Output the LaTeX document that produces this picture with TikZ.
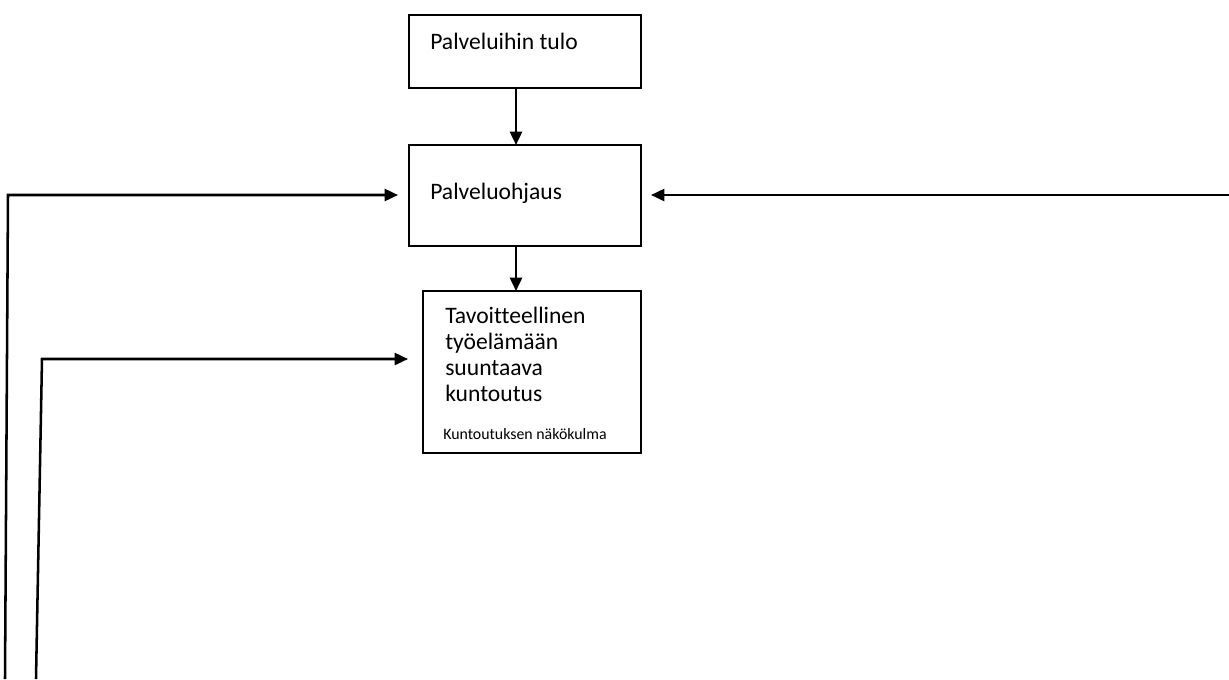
\documentclass[tikz,border=0pt]{standalone}
\usepackage{fontspec}
\setmainfont{Carlito}[Ligatures=NoCommon]
\usetikzlibrary{arrows.meta, positioning, calc}

\begin{document}
\begin{tikzpicture}[x=0.75pt, y=-0.75pt,
	 					box/.style = {draw, line width=1.4pt, inner sep=0pt, outer sep=0pt},
	 					txt/.style = {anchor=base west, inner sep=0pt, align=left,
	 						font=\fontsize{17.7}{19.5}\selectfont},
	 					note/.style = {anchor=base west, inner sep=0pt,
	 						font=\fontsize{11.9}{14}\selectfont},
	 					arr/.style = {line width=1.9pt, -{Triangle[length=10pt, width=9pt]}}]
	\useasboundingbox (0,0) rectangle (1229,679);
	% boxes
	\node[box, minimum width=174pt, minimum height=54.75pt, anchor=north west] (tulo) at (409,15) {};
	\node[box, minimum width=174pt, minimum height=75.75pt,
		below right=42.75pt and 0pt of tulo.south west] (ohjaus) {};
	\node[box, minimum width=163.5pt, minimum height=121.5pt,
		below right=33.75pt and 10.5pt of ohjaus.south west] (kuntoutus) {};
	% texts
	\node[txt] (tulotxt) at ($(tulo.north west)+(21,34)$) {Palveluihin tulo};
	\node[txt] (ohjaustxt) at ($(ohjaus.north west)+(21,54)$) {Palveluohjaus};
	% base of the last line
	\node[txt] (kuntoutustxt) at ($(kuntoutus.north west)+(22,110)$)
		{Tavoitteellinen\\ työelämään\\ suuntaava\\ kuntoutus};
	\node[note] (nakokulma) at ($(kuntoutus.north west)+(20,148)$) {Kuntoutuksen näkökulma};
	% free ends
	\coordinate (vasen1) at (5,679);
	\coordinate (kulma1) at (8,195);
	\coordinate (vasen2) at (36,679);
	\coordinate (kulma2) at (42,359);
	\coordinate (oikea) at (1229,195);
	% connectors
	\draw[arr] ([xshift=-6.75pt]tulo.south) -- ([xshift=-6.75pt]ohjaus.north);
	\draw[arr] ([xshift=-6.75pt]ohjaus.south) -- ([xshift=-6.75pt]ohjaus.south |- kuntoutus.north);
	\draw[arr] (vasen1) -- (kulma1) -- ([xshift=-8.25pt]ohjaus.west |- kulma1);
	\draw[arr] (vasen2) -- (kulma2) -- ([xshift=-11.25pt]kuntoutus.west |- kulma2);
	\draw[arr] (oikea) -- ([xshift=7.5pt]ohjaus.east |- oikea);
\end{tikzpicture}
\end{document}
